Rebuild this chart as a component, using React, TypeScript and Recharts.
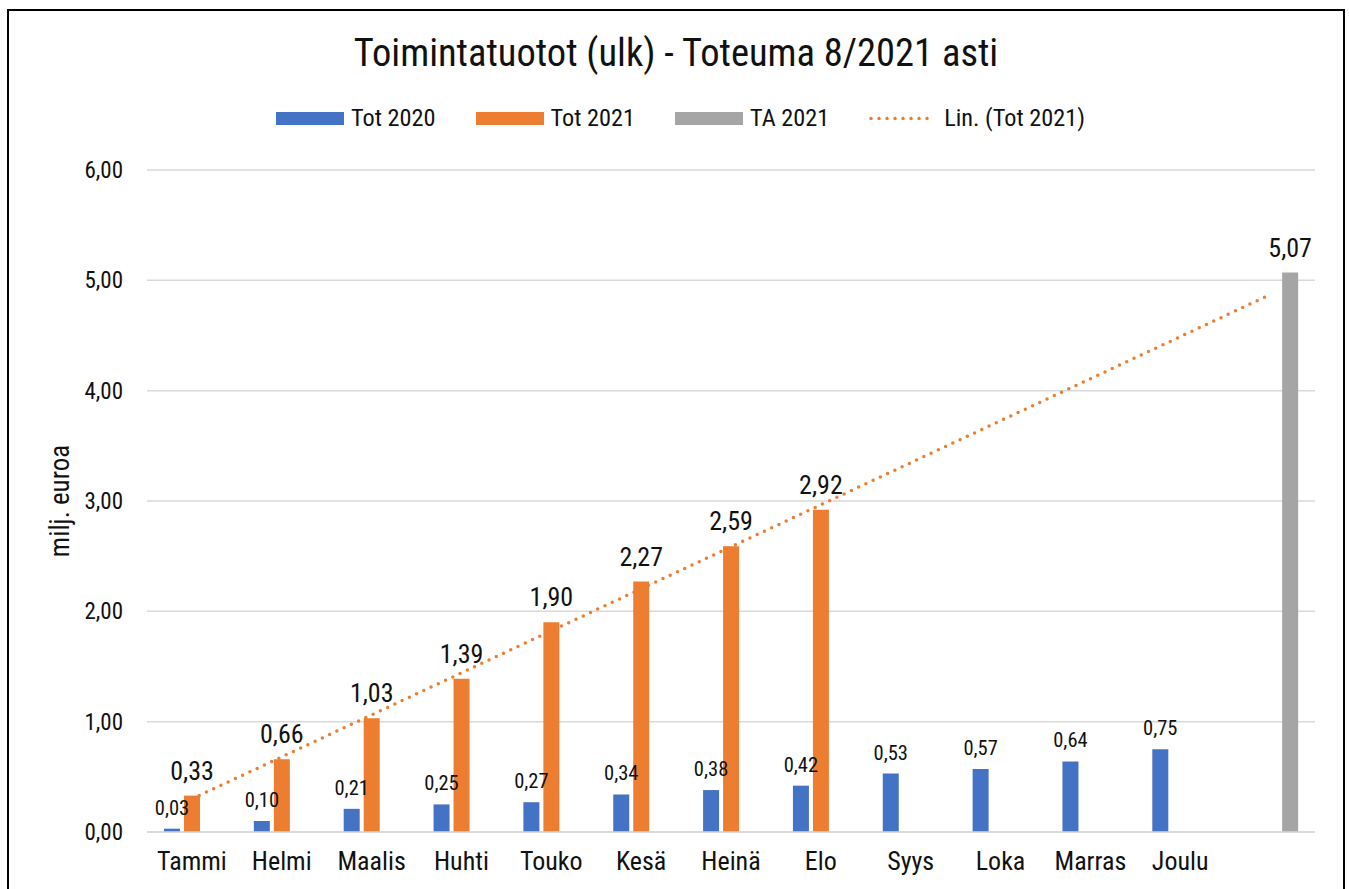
import React from 'react';
import {
  ComposedChart, Bar, Line, XAxis, YAxis, CartesianGrid, LabelList, Legend, Label,
} from 'recharts';

const months = ['Tammi', 'Helmi', 'Maalis', 'Huhti', 'Touko', 'Kesä', 'Heinä', 'Elo', 'Syys', 'Loka', 'Marras', 'Joulu', ''];
const tot2020 = [0.03, 0.1, 0.21, 0.25, 0.27, 0.34, 0.38, 0.42, 0.53, 0.57, 0.64, 0.75, null];
const tot2021 = [0.33, 0.66, 1.03, 1.39, 1.9, 2.27, 2.59, 2.92, null, null, null, null, null];
const ta2021 = [null, null, null, null, null, null, null, null, null, null, null, null, 5.07];
const trend = [0.3, null, null, null, null, null, null, null, null, null, null, null, 4.87];
const yTicks = [0, 1, 2, 3, 4, 5, 6];

const data = months.map((m, i) => ({
  month: m,
  tot2020: tot2020[i],
  tot2021: tot2021[i],
  ta2021: ta2021[i],
  trend: trend[i],
}));

const FONT = "'Liberation Sans Narrow', 'Roboto Condensed', 'Arial Narrow', Roboto, sans-serif";
const TEXT = '#111111';
const BLUE = '#4472C4';
const ORANGE = '#ED7D31';
const GREY = '#A5A5A5';

const fmt = (v: any) => (v === null || v === undefined ? '' : Number(v).toFixed(2).replace('.', ','));

const legendItems = [
  { label: 'Tot 2020', color: BLUE, type: 'bar' },
  { label: 'Tot 2021', color: ORANGE, type: 'bar' },
  { label: 'TA 2021', color: GREY, type: 'bar' },
  { label: 'Lin. (Tot 2021)', color: ORANGE, type: 'line' },
];

const LegendContent = () => (
  <div style={{ display: 'flex', justifyContent: 'center', alignItems: 'center', fontFamily: FONT, fontSize: 24.3, color: TEXT, lineHeight: '30px' }}>
    {legendItems.map((it) => (
      <div key={it.label} style={{ display: 'flex', alignItems: 'center', margin: '0 20px' }}>
        <svg width={68} height={13} style={{ marginRight: 7 }}>
          {it.type === 'bar' ? (
            <rect x={0} y={0} width={68} height={13} fill={it.color} />
          ) : (
            <line x1={2} y1={6.5} x2={66} y2={6.5} stroke={it.color} strokeWidth={3.5} strokeDasharray="0 8" strokeLinecap="round" />
          )}
        </svg>
        <span>{it.label}</span>
      </div>
    ))}
  </div>
);

export default function App() {
  return (
    <div style={{ position: 'absolute', left: 0, top: 0, width: 1349, height: 889, overflow: 'hidden', background: '#fff' }}>
      <div style={{ position: 'absolute', left: 7, top: 9, width: 1338, height: 900, border: '2px solid #000', boxSizing: 'border-box' }} />
      <div style={{ position: 'absolute', left: 7, top: 30, width: 1338, textAlign: 'center', fontFamily: FONT, fontSize: 38.5, color: TEXT }}>
        Toimintatuotot (ulk) - Toteuma 8/2021 asti
      </div>
      <div style={{ position: 'absolute', left: 0, top: 0 }}>
        <ComposedChart
          width={1349}
          height={889}
          data={data}
          margin={{ top: 170, right: 34, bottom: 27, left: 0 }}
          barSize={16}
          barGap={4}
        >
          <CartesianGrid vertical={false} stroke="#d9d9d9" strokeWidth={1.5} />
          <XAxis
            dataKey="month"
            axisLine={{ stroke: '#d9d9d9', strokeWidth: 1.5 }}
            tickLine={false}
            tickMargin={14}
            interval={0}
            tick={{ fontFamily: FONT, fontSize: 26, fill: TEXT }}
          />
          <YAxis
            width={147}
            domain={[0, 6]}
            ticks={yTicks}
            axisLine={false}
            tickLine={false}
            tickMargin={18}
            tickFormatter={fmt}
            tick={{ fontFamily: FONT, fontSize: 23, fill: TEXT }}
          >
            <Label value="milj. euroa" angle={-90} position="center" dx={-14} style={{ fontFamily: FONT, fontSize: 27, fill: TEXT }} />
          </YAxis>
          <Legend
            layout="horizontal"
            verticalAlign="middle"
            align="center"
            wrapperStyle={{ top: 103, left: 6, width: 1349 }}
            content={<LegendContent />}
          />
          <Bar dataKey="tot2020" name="Tot 2020" fill={BLUE} isAnimationActive={false}>
            <LabelList dataKey="tot2020" position="top" offset={14} formatter={fmt} style={{ fontFamily: FONT, fontSize: 20.5, fill: TEXT }} />
          </Bar>
          <Bar dataKey="tot2021" name="Tot 2021" fill={ORANGE} isAnimationActive={false}>
            <LabelList dataKey="tot2021" position="top" offset={16} formatter={fmt} style={{ fontFamily: FONT, fontSize: 26, fill: TEXT }} />
          </Bar>
          <Bar dataKey="ta2021" name="TA 2021" fill={GREY} isAnimationActive={false}>
            <LabelList dataKey="ta2021" position="top" offset={16} formatter={fmt} style={{ fontFamily: FONT, fontSize: 26, fill: TEXT }} />
          </Bar>
          <Line
            dataKey="trend"
            name="Lin. (Tot 2021)"
            stroke={ORANGE}
            strokeWidth={3.5}
            strokeDasharray="0 8"
            strokeLinecap="round"
            dot={false}
            activeDot={false}
            connectNulls
            isAnimationActive={false}
          />
        </ComposedChart>
      </div>
    </div>
  );
}
